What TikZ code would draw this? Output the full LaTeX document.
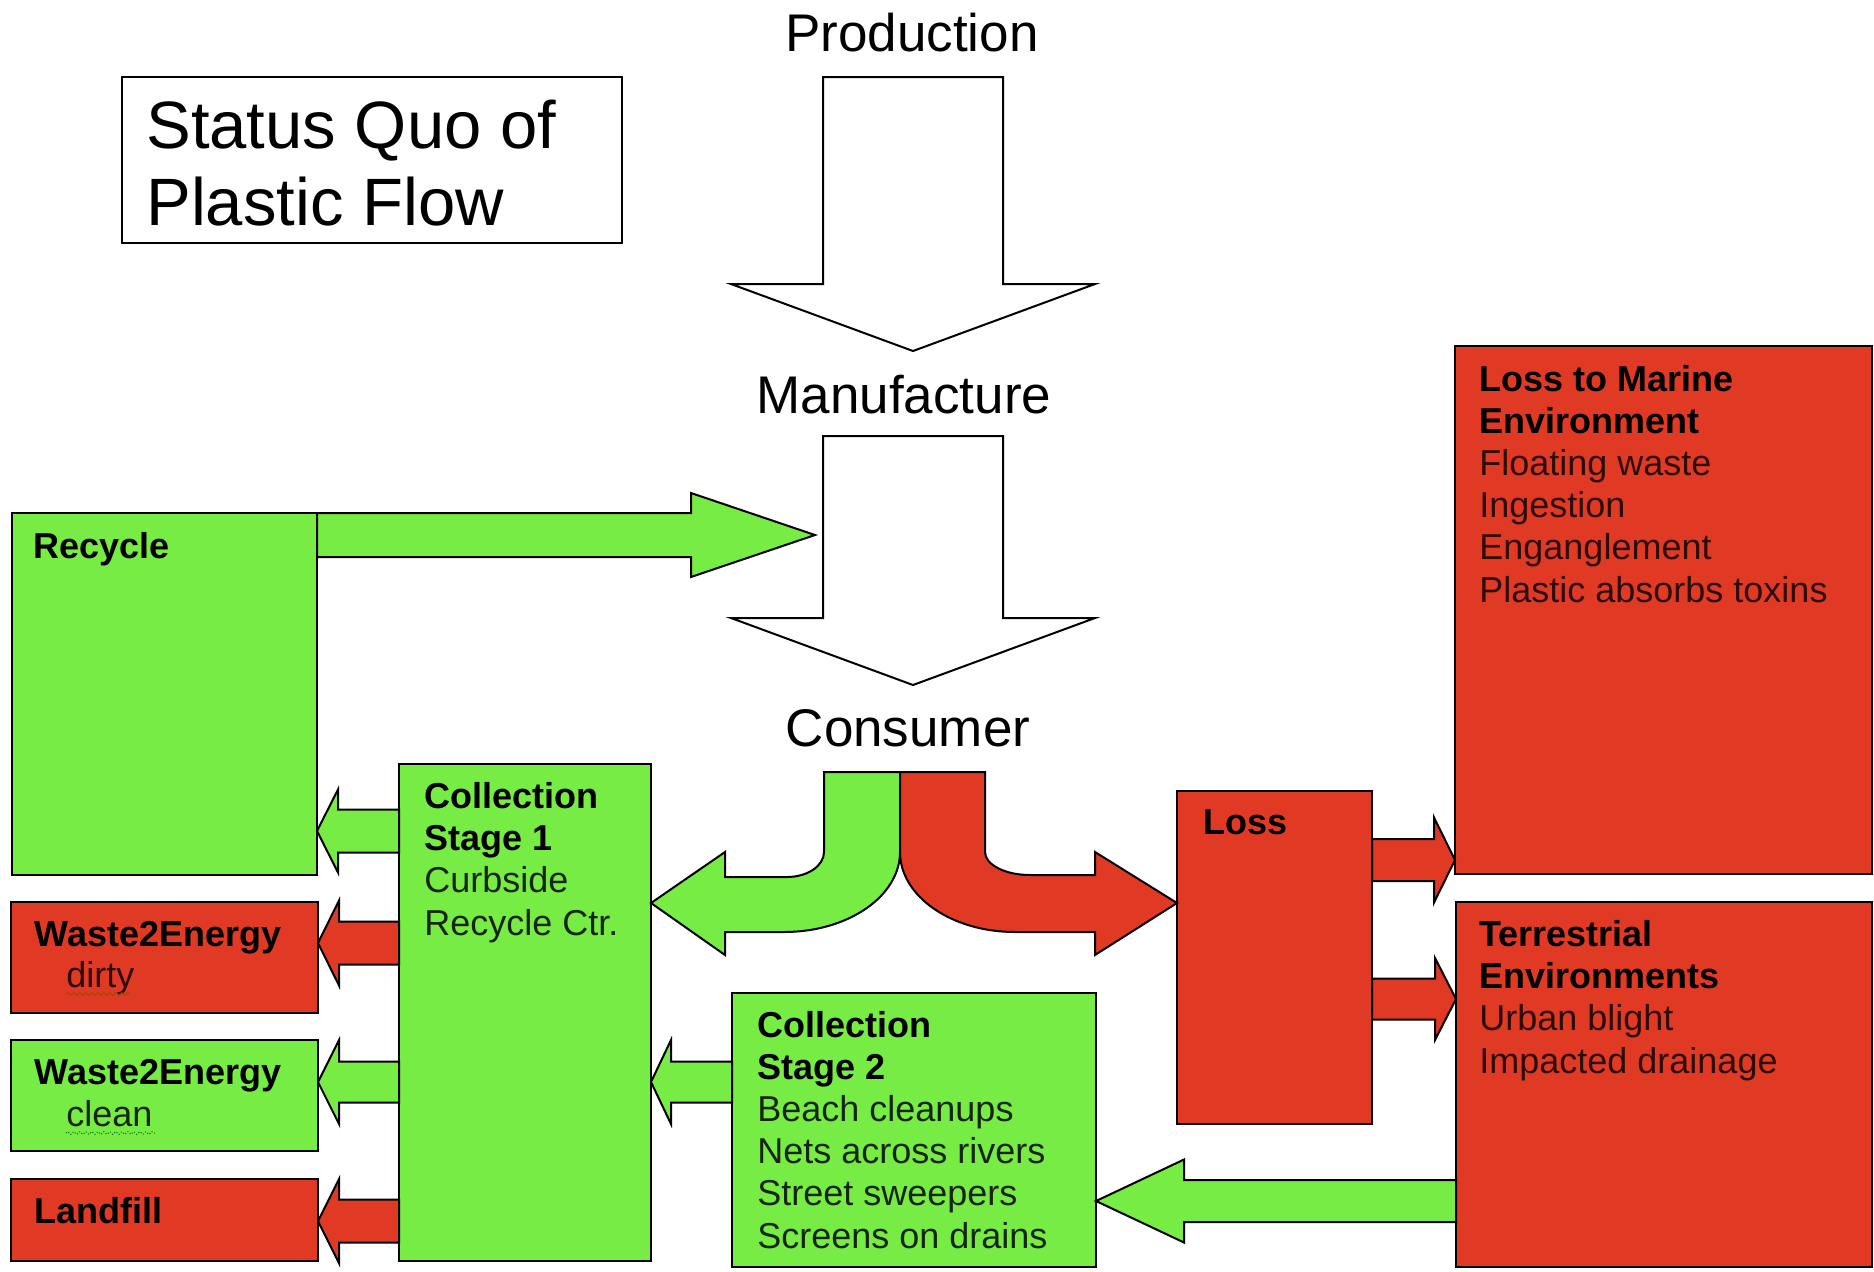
\documentclass[tikz,border=0pt]{standalone}
\usepackage{fontspec}
\setmainfont{Liberation Sans}
\usetikzlibrary{calc,decorations.pathmorphing}
\definecolor{pgreen}{HTML}{77EC44}
\definecolor{pred}{HTML}{E13A24}
\definecolor{gtext}{HTML}{162410}
\definecolor{rtext}{HTML}{2C0C06}

\tikzset{
  outl/.style={draw=black, line width=1pt, line join=miter},
  gbox/.style={outl, fill=pgreen, rectangle, inner sep=0pt, outer sep=0pt},
  rbox/.style={outl, fill=pred, rectangle, inner sep=0pt, outer sep=0pt},
  wbox/.style={outl, fill=white, rectangle, inner sep=0pt, outer sep=0pt},
  garrow/.style={outl, fill=pgreen},
  rarrow/.style={outl, fill=pred},
  warrow/.style={outl, fill=white},
  boxtxt/.style={anchor=base west, align=left, inner sep=0pt, font=\fontsize{18}{21.1}\selectfont},
  lbl/.style={anchor=base, inner sep=0pt, font=\fontsize{26.5}{30}\selectfont},
  squiggle/.style={decorate, decoration={snake, amplitude=0.7pt, segment length=3pt}, line width=0.5pt},
}

% box: style, name, x1, y1, x2, y2 (pixel units)
\newcommand\PBox[6]{%
  \node[#1, anchor=north west, minimum width={(#5-#3)*0.5pt}, minimum height={(#6-#4)*0.5pt}] (#2) at (#3,#4) {};}

% horizontal block arrow: style, from, to, shaft half, head half, head length (px)
\newcommand\HArrow[6]{%
  \draw[#1] let \p1=(#2), \p2=(#3), \n1={ifthenelse(\x2>\x1,1,-1)} in
    (\x1,{\y2+#4*0.5pt}) -- ({\x2-(\n1)*#6*0.5pt},{\y2+#4*0.5pt})
    -- ({\x2-(\n1)*#6*0.5pt},{\y2+#5*0.5pt}) -- (\x2,\y2)
    -- ({\x2-(\n1)*#6*0.5pt},{\y2-#5*0.5pt}) -- ({\x2-(\n1)*#6*0.5pt},{\y2-#4*0.5pt})
    -- (\x1,{\y2-#4*0.5pt}) -- cycle;}

% vertical downward block arrow: style, from, to, shaft half, head half, head length (px)
\newcommand\VArrow[6]{%
  \draw[#1] let \p1=(#2), \p2=(#3) in
    ({\x2-#4*0.5pt},\y1) -- ({\x2+#4*0.5pt},\y1) -- ({\x2+#4*0.5pt},{\y2+#6*0.5pt})
    -- ({\x2+#5*0.5pt},{\y2+#6*0.5pt}) -- (\x2,\y2) -- ({\x2-#5*0.5pt},{\y2+#6*0.5pt})
    -- ({\x2-#4*0.5pt},{\y2+#6*0.5pt}) -- cycle;}

\begin{document}
\begin{tikzpicture}[x=0.5pt, y=-0.5pt]
\useasboundingbox (0,0) rectangle (1874,1271);
\fill[white] (0,0) rectangle (1874,1271);

% ---- title ----
\PBox{wbox}{titlebox}{122}{77}{622}{243}
\node[anchor=base west, align=left, inner sep=0pt, font=\fontsize{33.5}{38.5}\selectfont] (title) at (146,225) {Status Quo of\\Plastic Flow};

% ---- stage labels ----
\node[lbl] (prod) at (912,51) {Production};
\node[lbl] (manu) at (904,413) {Manufacture};
\node[lbl] (cons) at (908,746) {Consumer};

% ---- white flow arrows ----
\coordinate (a1top) at (913,77);
\coordinate (a1tip) at (913,351);
\coordinate (a2top) at (913,436);
\coordinate (a2tip) at (913,685);
\VArrow{warrow}{a1top}{a1tip}{90}{182}{67}
\VArrow{warrow}{a2top}{a2tip}{90}{182}{67}

% ---- boxes ----
\PBox{gbox}{rec}{12}{513}{317}{875}
\PBox{rbox}{w2ed}{11}{902}{318}{1013}
\PBox{gbox}{w2ec}{11}{1040}{318}{1151}
\PBox{rbox}{land}{11}{1179}{318}{1261}
\PBox{gbox}{coll1}{399}{764}{651}{1261}
\PBox{gbox}{coll2}{732}{993}{1096}{1267}
\PBox{rbox}{loss}{1177}{791}{1372}{1124}
\PBox{rbox}{marine}{1455}{346}{1872}{874}
\PBox{rbox}{terr}{1456}{902}{1872}{1267}

% ---- straight block arrows ----
\coordinate (tRecMan) at (815,535);
\HArrow{garrow}{rec.east}{tRecMan}{22}{42}{124}

\coordinate (tToRec) at (317,831);
\HArrow{garrow}{coll1.west}{tToRec}{21.5}{41.5}{21}
\coordinate (tToW2Ed) at (318,943);
\HArrow{rarrow}{coll1.west}{tToW2Ed}{21.5}{42.5}{21}
\coordinate (tToW2Ec) at (318,1082);
\HArrow{garrow}{coll1.west}{tToW2Ec}{20.5}{42}{21}
\coordinate (tToLand) at (318,1221);
\HArrow{rarrow}{coll1.west}{tToLand}{21.5}{42}{21}

\coordinate (tToColl1) at (651,1082);
\HArrow{garrow}{coll2.west}{tToColl1}{20.5}{42}{20}
\coordinate (tToColl2) at (1096,1201);
\HArrow{garrow}{terr.west}{tToColl2}{21}{41.5}{88}

\coordinate (tToMarine) at (1455,860);
\HArrow{rarrow}{loss.east}{tToMarine}{21}{42.5}{21}
\coordinate (tToTerr) at (1456,999);
\HArrow{rarrow}{loss.east}{tToTerr}{20.5}{41}{21}

% ---- split arrows from Consumer ----
\coordinate (gsplit) at (900,772);
\coordinate (gtip) at (651,903);
\coordinate (rtip) at (1177,903);
\draw[garrow] (824,772) -- (gsplit) -- (900,852)
  arc[start angle=0, end angle=-90, x radius=58pt, y radius=40pt]
  -- (725,932) -- (725,955) -- (gtip) -- (725,852) -- (725,877) -- (787,877)
  arc[start angle=-90, end angle=0, x radius=18.5pt, y radius=12.5pt] -- cycle;
\draw[rarrow] (gsplit) -- (985,772) -- (985,852)
  arc[start angle=180, end angle=270, x radius=22.5pt, y radius=11.5pt]
  -- (1095,875) -- (1095,852) -- (rtip) -- (1095,955) -- (1095,932) -- (1015,932)
  arc[start angle=270, end angle=180, x radius=57.5pt, y radius=40pt] -- cycle;

% ---- box texts (anchor = baseline of the last line) ----
\node[boxtxt] (trec) at (33,558) {\textbf{Recycle}};
\node[boxtxt] (tw2ed) at (34,946) {\textbf{Waste2Energy}};
\node[boxtxt, text=rtext] (tdirty) at (66,987) {dirty};
\node[boxtxt] (tw2ec) at (34,1084) {\textbf{Waste2Energy}};
\node[boxtxt, text=gtext] (tclean) at (66,1126) {clean};
\node[boxtxt] (tland) at (34,1223) {\textbf{Landfill}};
\draw[squiggle, draw=orange!60!black] (tdirty.base west) ++(0,7) -- ++(64,0);
\draw[squiggle, draw=green!45!black, densely dotted] (tclean.base west) ++(0,7) -- ++(90,0);

\node[boxtxt, text=gtext] (tcoll1) at (424,935)
  {\textbf{\color{black}Collection}\\\textbf{\color{black}Stage 1}\\Curbside\\Recycle Ctr.};
\node[boxtxt, text=gtext] (tcoll2) at (757,1248)
  {\textbf{\color{black}Collection}\\\textbf{\color{black}Stage 2}\\Beach cleanups\\Nets across rivers\\Street sweepers\\Screens on drains};
\node[boxtxt] (tloss) at (1203,834) {\textbf{Loss}};
\node[boxtxt, text=rtext] (tmarine) at (1479,602)
  {\textbf{\color{black}Loss to Marine}\\\textbf{\color{black}Environment}\\Floating waste\\Ingestion\\Enganglement\\Plastic absorbs toxins};
\node[boxtxt, text=rtext] (tterr) at (1479,1073)
  {\textbf{\color{black}Terrestrial}\\\textbf{\color{black}Environments}\\Urban blight\\Impacted drainage};
\end{tikzpicture}
\end{document}
